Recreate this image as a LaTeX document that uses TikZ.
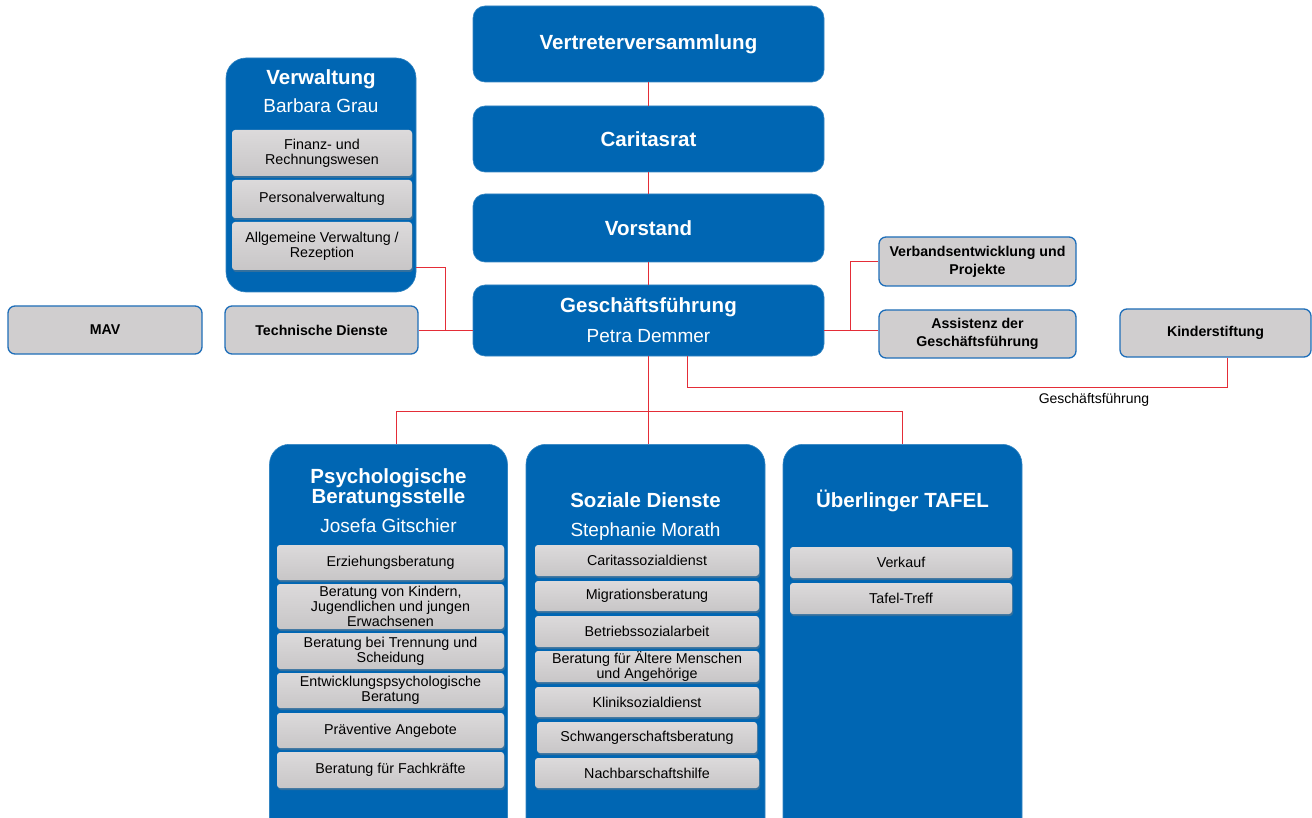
\documentclass[tikz,border=0pt]{standalone}
\usepackage{fontspec}
\setmainfont{Liberation Sans}
\usetikzlibrary{shadows,calc}
\definecolor{cblue}{RGB}{0,102,179}
\definecolor{cgray}{RGB}{208,206,207}
\definecolor{cgraytop}{RGB}{220,218,219}
\definecolor{cgraybot}{RGB}{200,198,199}
\definecolor{cred}{RGB}{228,45,55}
\definecolor{cborder}{RGB}{30,110,185}
\begin{document}
\begin{tikzpicture}[x=1pt,y=-1pt,
  bluebox/.style={fill=cblue, draw=cblue!80!white, line width=0.6pt, rounded corners=12pt, inner sep=0pt, text=white, align=center, font=\fontsize{20.5}{24}\selectfont\bfseries},
  colbox/.style={fill=cblue, draw=cblue!80!white, line width=0.6pt, rounded corners=20pt, inner sep=0pt},
  graybox/.style={fill=cgray, draw=cborder, line width=1.3pt, rounded corners=7pt, inner sep=0pt, align=center, font=\fontsize{14.2}{18}\selectfont\bfseries},
  subbox/.style={top color=cgraytop, bottom color=cgraybot, draw=none, rounded corners=3pt, inner sep=0pt, align=center, font=\fontsize{14.3}{15}\selectfont, drop shadow={shadow xshift=1pt, shadow yshift=-2pt, opacity=0.4}},
  ttl/.style={anchor=base, text=white, font=\fontsize{20.5}{20}\selectfont\bfseries, align=center, inner sep=0pt},
  nme/.style={anchor=base, text=white, font=\fontsize{19}{22}\selectfont, inner sep=0pt},
  conn/.style={draw=cred, line width=0.8pt},
  lbl/.style={font=\fontsize{14}{16}\selectfont, inner sep=0pt}
]
\path[use as bounding box, clip] (0,0) rectangle (1312,818);
\fill[white] (0,0) rectangle (1312,818);

% top chain
\node[bluebox, minimum width=351pt, minimum height=76pt] (vv) at (648.5,44) {Vertreterversammlung};
\node[bluebox, minimum width=351pt, minimum height=66pt] (cr) at (648.5,139) {Caritasrat};
\node[bluebox, minimum width=351pt, minimum height=68pt] (vs) at (648.5,228) {Vorstand};
\node[bluebox, minimum width=351pt, minimum height=71pt] (gf) at (648.5,320.5) {};
\node[ttl] (gft) at (648.5,313) {Geschäftsführung};
\node[nme] (gfn) at (648.5,342) {Petra Demmer};

% Verwaltung
\node[colbox, minimum width=190pt, minimum height=234pt] (vw) at (321,175) {};
\node[ttl] (vwt) at (321,85) {Verwaltung};
\node[nme] (vwn) at (321,113) {Barbara Grau};
\node[subbox, minimum width=180pt, minimum height=46pt] (fin) at (322,153) {Finanz- und\\Rechnungswesen};
\node[subbox, minimum width=180pt, minimum height=38pt] (pv) at (322,199) {Personalverwaltung};
\node[subbox, minimum width=180pt, minimum height=48pt] (av) at (322,246) {Allgemeine Verwaltung /\\Rezeption};

% side boxes
\node[graybox, minimum width=194pt, minimum height=48pt] (mav) at (105,330) {MAV};
\node[graybox, minimum width=193pt, minimum height=48pt] (td) at (321.5,330) {Technische Dienste};
\node[graybox, minimum width=197pt, minimum height=49pt] (vb) at (977.5,261.5) {Verbandsentwicklung und\\Projekte};
\node[graybox, minimum width=197pt, minimum height=48pt] (as) at (977.5,334) {Assistenz der\\Geschäftsführung};
\node[graybox, minimum width=191pt, minimum height=48pt] (ks) at (1215.5,333) {Kinderstiftung};
\node[lbl] (gfl) at (1094,400) {Geschäftsführung};

% columns
\node[colbox, minimum width=238pt, minimum height=420pt, anchor=north] (psy) at (388.5,444) {};
\node[ttl] (psyt) at (388.5,503) {Psychologische\\Beratungsstelle};
\node[nme] (psyn) at (388.5,532) {Josefa Gitschier};
\node[subbox, minimum width=227pt, minimum height=35pt] (p1) at (390.5,562.5) {Erziehungsberatung};
\node[subbox, minimum width=227pt, minimum height=45pt] (p2) at (390.5,606.5) {Beratung von Kindern,\\Jugendlichen und jungen\\Erwachsenen};
\node[subbox, minimum width=227pt, minimum height=36pt] (p3) at (390.5,651) {Beratung bei Trennung und\\Scheidung};
\node[subbox, minimum width=227pt, minimum height=35pt] (p4) at (390.5,690.5) {Entwicklungspsychologische\\Beratung};
\node[subbox, minimum width=227pt, minimum height=35pt] (p5) at (390.5,730.5) {Präventive Angebote};
\node[subbox, minimum width=227pt, minimum height=36pt] (p6) at (390.5,770) {Beratung für Fachkräfte};

\node[colbox, minimum width=239pt, minimum height=420pt, anchor=north] (soz) at (645.5,444) {};
\node[ttl] (sozt) at (645.5,507) {Soziale Dienste};
\node[nme] (sozn) at (645.5,536) {Stephanie Morath};
\node[subbox, minimum width=224pt, minimum height=31pt] (s1) at (647,560.5) {Caritassozialdienst};
\node[subbox, minimum width=224pt, minimum height=30pt] (s2) at (647,596) {Migrationsberatung};
\node[subbox, minimum width=224pt, minimum height=31pt] (s3) at (647,631.5) {Betriebssozialarbeit};
\node[subbox, minimum width=224pt, minimum height=31pt] (s4) at (647,666.5) {Beratung für Ältere Menschen\\und Angehörige};
\node[subbox, minimum width=224pt, minimum height=30pt] (s5) at (647,702) {Kliniksozialdienst};
\node[subbox, minimum width=220pt, minimum height=31pt] (s6) at (647,737.5) {Schwangerschaftsberatung};
\node[subbox, minimum width=224pt, minimum height=30pt] (s7) at (647,773) {Nachbarschaftshilfe};

\node[colbox, minimum width=239pt, minimum height=420pt, anchor=north] (taf) at (902.5,444) {};
\node[ttl] (taft) at (902.5,507) {Überlinger TAFEL};
\node[subbox, minimum width=222pt, minimum height=31pt] (t1) at (901,562.5) {Verkauf};
\node[subbox, minimum width=222pt, minimum height=31pt] (t2) at (901,598.5) {Tafel-Treff};

% connectors
\draw[conn] (vv.south) -- (cr.north);
\draw[conn] (cr.south) -- (vs.north);
\draw[conn] (vs.south) -- (gf.north);
\draw[conn] (td.east) -- (td.east -| gf.west);
\draw[conn] ($(vw.south east)+(0,-25)$) -| ($(td.east)!0.5!(td.east -| gf.west)$);
\draw[conn] (td.east -| gf.east) -- (td.east -| as.west);
\draw[conn] ($(td.east -| gf.east)+(26,0)$) |- (vb.west);
\draw[conn] ([xshift=38.5pt]gf.south) -- ++(0,31) -| ([xshift=11.5pt]ks.south);
\coordinate (bus) at (648.5,411);
\draw[conn] (gf.south) -- (bus);
\draw[conn] (bus) -| ([xshift=7.5pt]psy.north);
\draw[conn] (bus) -- (bus |- soz.north);
\draw[conn] (bus) -| (taf.north);
\end{tikzpicture}
\end{document}
